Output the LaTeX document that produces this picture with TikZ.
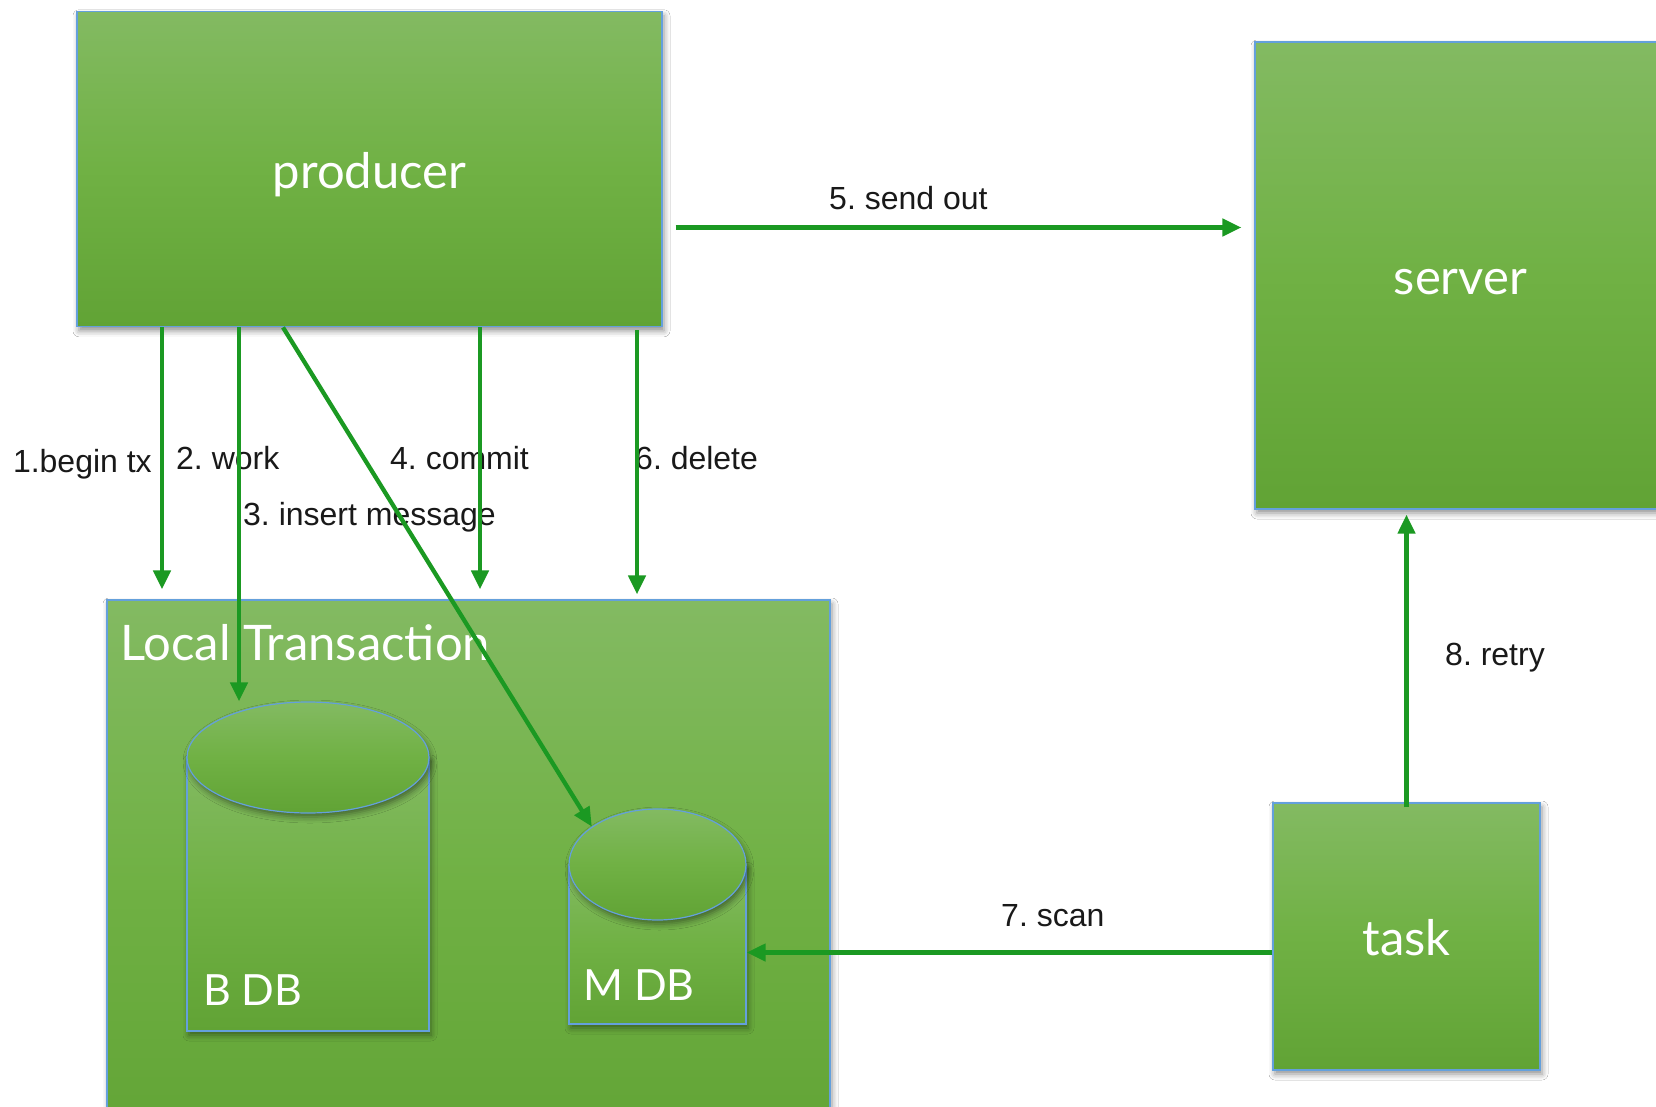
\documentclass[tikz,border=0pt]{standalone}
\usepackage{fontspec}
\setmainfont{Liberation Sans}
\newfontfamily\boxfont{Lato}
\usetikzlibrary{arrows.meta,calc,shapes.geometric,shadows.blur}
\frenchspacing

\definecolor{gtop}{RGB}{131,186,98}
\definecolor{gmid}{RGB}{112,177,68}
\definecolor{gbot}{RGB}{97,163,53}
\definecolor{edgeblue}{RGB}{100,160,220}
\definecolor{flowgreen}{RGB}{27,153,34}
\definecolor{labelink}{RGB}{25,25,25}

\begin{document}
\begin{tikzpicture}[x=1pt,y=-1pt,
  greenbox/.style={draw=edgeblue, line width=1.2pt,
    top color=gtop, bottom color=gbot, middle color=gmid,
    blur shadow={shadow xshift=2pt, shadow yshift=-4pt,
      shadow blur radius=6pt, shadow opacity=45},
    text=white, font=\boxfont\fontsize{49}{54}\selectfont,
    inner sep=0pt, text height=38pt, text depth=0pt},
  boxtext/.style={text=white, font=\boxfont\fontsize{49}{54}\selectfont,
    inner sep=0pt, anchor=base west},
  dbtext/.style={boxtext, font=\boxfont\fontsize{43}{48}\selectfont},
  lbl/.style={text=labelink, font=\fontsize{32}{36}\selectfont,
    inner sep=0pt, anchor=base west},
  flow/.style={draw=flowgreen, line width=4.3pt,
    -{Triangle[length=19pt,width=17pt]}}]

% canvas
\fill[white] (0,0) rectangle (1656,1107);
\useasboundingbox (0,0) rectangle (1656,1107);

% main boxes
\node[greenbox, minimum width=585pt, minimum height=315pt] (producer) at (369.5,169.3) {producer};
\node[greenbox, minimum width=411pt, minimum height=467pt] (server) at (1460.5,275.5) {server};
\node[greenbox, minimum width=267pt, minimum height=267pt] (task) at (1406.5,936.5) {task};

% local transaction container
\node[greenbox, minimum width=723pt, minimum height=560pt] (lt) at (468.5,880) {};
\node[boxtext] (lt-title) at (120,660) {Local Transaction};

% business database cylinder
\node[greenbox, minimum width=242pt, minimum height=274pt] (bdb-body) at (308,894) {};
\node[greenbox, ellipse, minimum width=242pt, minimum height=111pt] (bdb-top) at (308,757.5) {};
\node[dbtext] (bdb-label) at (203,1005) {B DB};

% message database cylinder
\node[greenbox, minimum width=177pt, minimum height=159.5pt] (mdb-body) at (657.5,944.25) {};
\node[greenbox, ellipse, minimum width=177pt, minimum height=111pt] (mdb-top) at (657.5,864.5) {};
\node[dbtext] (mdb-label) at (583,1000) {M DB};

% step labels
\node[lbl] (l1) at (12.8,472) {1.begin tx};
\node[lbl] (l2) at (176,469) {2. work};
\node[lbl] (l3) at (243,525) {3. insert message};
\node[lbl] (l4) at (390,469) {4. commit};
\node[lbl] (l5) at (829,210) {5. send out};
\node[lbl] (l6) at (635,469) {6. delete};
\node[lbl] (l7) at (1001,926) {7. scan};
\node[lbl] (l8) at (1445,665) {8. retry};

% guide coordinates for the connectors
\coordinate (colA) at (162,0);
\coordinate (colB) at (239,0);
\coordinate (colC) at (283,0);
\coordinate (colD) at (480,0);
\coordinate (colE) at (637,0);
\coordinate (row5) at (0,227.5);
\coordinate (row7) at (0,952.5);

% connectors
\draw[flow, shorten >=10pt] (producer.south -| colA) -- (lt.north -| colA);
\draw[flow] (producer.south -| colB) -- (bdb-top.north -| colB);
\draw[flow] (producer.south -| colC) -- (mdb-top.150);
\draw[flow, shorten >=10pt] (producer.south -| colD) -- (lt.north -| colD);
\draw[flow, shorten <=13pt, shorten >=13pt] (producer.east |- row5) -- (server.west |- row5);
\draw[flow, shorten <=3pt, shorten >=5pt] (producer.south -| colE) -- (lt.north -| colE);
\draw[flow] (task.west |- row7) -- (mdb-body.east |- row7);
\draw[flow, shorten <=-5pt, shorten >=5pt] (task.north) -- (server.south -| task.north);
\end{tikzpicture}
\end{document}
